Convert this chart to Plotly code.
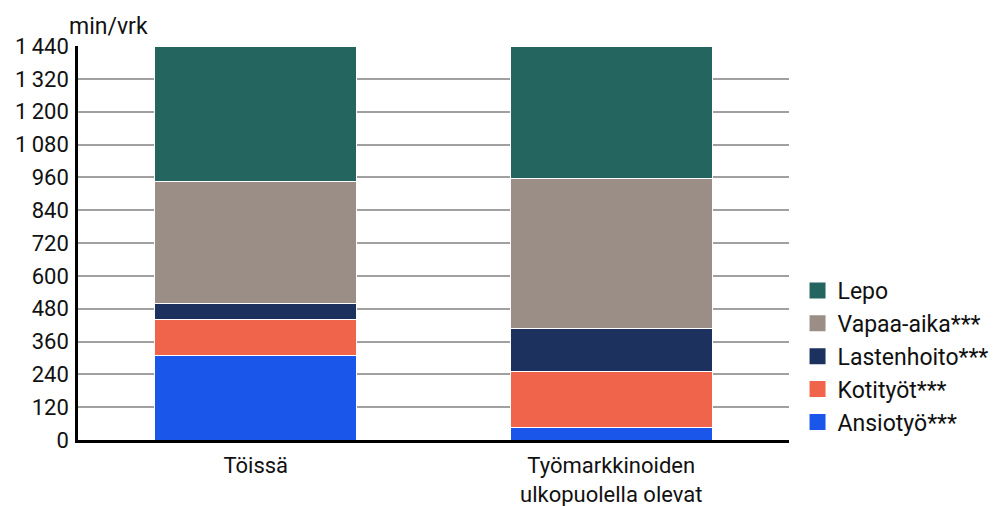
import plotly.graph_objects as go

groups = ["Töissä", "Työmarkkinoiden<br>ulkopuolella olevat"]
series = ["Ansiotyö***", "Kotityöt***", "Lastenhoito***", "Vapaa-aika***", "Lepo"]
ansiotyo = [308, 44]
kotityot = [131, 208]
lastenhoito = [61, 156]
vapaa_aika = [445, 547]
lepo = [495, 485]
values = [ansiotyo, kotityot, lastenhoito, vapaa_aika, lepo]
colors = ["#1b56eb", "#f1644c", "#1c315e", "#9b8e87", "#256560"]

tick_vals = list(range(0, 1441, 120))
tick_text = [f"{v // 1000}\u2009{v % 1000:03d}" if v >= 1000 else str(v) for v in tick_vals]

FONT = "Roboto, sans-serif"

fig = go.Figure()
for name, vals, col in zip(series, values, colors):
    fig.add_trace(go.Bar(
        x=groups, y=vals, name=name,
        marker=dict(color=col, line=dict(color="white", width=1)),
        width=0.567, showlegend=False, legendgroup=name,
    ))
    # square legend key
    fig.add_trace(go.Scatter(
        x=[None], y=[None], mode="markers", name=name, legendgroup=name,
        marker=dict(symbol="square", size=16, color=col),
    ))

fig.update_layout(
    barmode="stack",
    width=995, height=506,
    margin=dict(l=78, r=206, t=46, b=66, autoexpand=False),
    plot_bgcolor="white", paper_bgcolor="white",
    font=dict(family=FONT, size=22, color="#111111"),
    showlegend=True,
    legend=dict(
        traceorder="reversed",
        x=1.012, xanchor="left", y=-0.01, yanchor="bottom",
        font=dict(size=23), itemwidth=30, tracegroupgap=0,
    ),
    xaxis=dict(
        showline=True, linecolor="black", linewidth=2.5,
        ticks="", showgrid=False, automargin=False,
        tickfont=dict(size=22), ticklabelstandoff=4,
    ),
    yaxis=dict(
        range=[0, 1440], tickvals=tick_vals, ticktext=tick_text,
        showgrid=True, gridcolor="#a0a0a0", gridwidth=1.5,
        showline=True, linecolor="black", linewidth=2.5,
        ticks="", zeroline=False, automargin=False,
        tickfont=dict(size=22), ticklabelstandoff=2,
    ),
    annotations=[dict(
        text="min/vrk", xref="paper", yref="paper",
        x=-0.016, y=1.0, xanchor="left", yanchor="bottom", yshift=4,
        showarrow=False, font=dict(size=23),
    )],
)

fig.write_html("out.html")
